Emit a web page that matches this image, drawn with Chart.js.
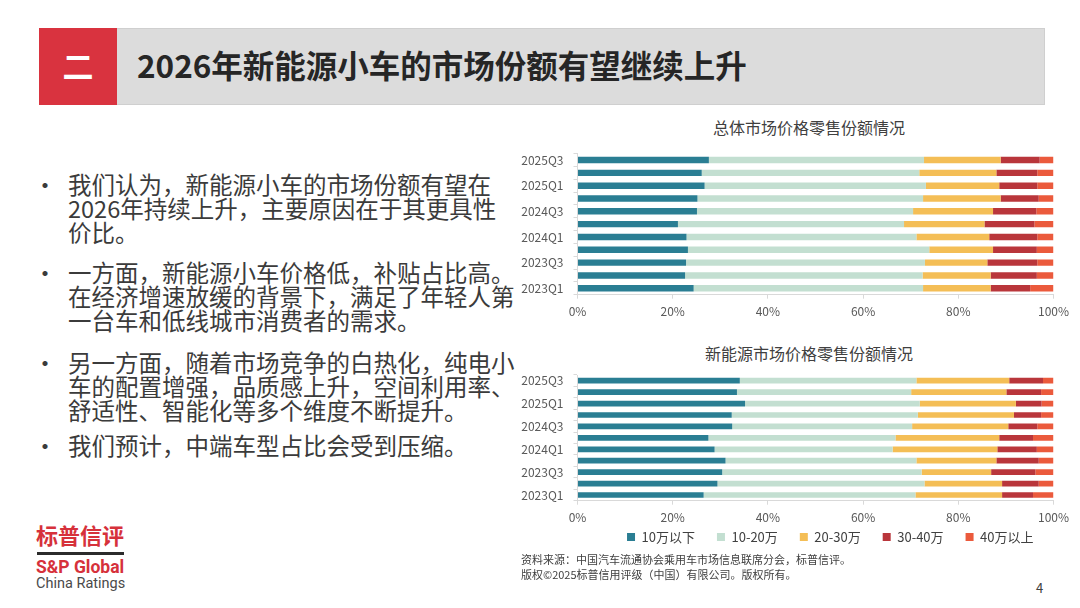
<!DOCTYPE html>
<html lang="zh-CN">
<head>
<meta charset="utf-8">
<title>2026年新能源小车的市场份额有望继续上升</title>
<script src="https://cdn.jsdelivr.net/npm/chart.js@4.4.1/dist/chart.umd.min.js"></script>
<style>
  body {
    margin: 0;
    width: 1080px;
    height: 608px;
    overflow: hidden;
    position: relative;
    background: #fff;
    font-family: "Noto Sans CJK SC", "Noto Sans", sans-serif;
    color: #3b3b3b;
  }
  .abs { position: absolute; }
  #header { left: 39px; top: 28px; width: 1006px; height: 77px; background: #dcdcdc; box-shadow: inset 0 0 0 1px #cfcfcf; }
  #num { left: 39px; top: 28px; width: 78px; height: 77px; background: #d9333f; color: #fff; font-size: 31px; font-weight: bold; text-align: center; line-height: 73px; }
  #title { left: 137px; top: 28px; line-height: 73px; font-size: 31.5px; font-weight: bold; color: #262626; white-space: nowrap; }
  .para { left: 68px; font-size: 23.5px; line-height: 24px; white-space: nowrap; }
  .dot { left: 33px; width: 20px; text-align: center; font-size: 24px; line-height: 24px; }
  .ctitle { left: 609px; width: 400px; text-align: center; font-size: 16px; line-height: 20px; color: #404040; }
  canvas { position: absolute; }
  #src { left: 521px; top: 552px; font-size: 11px; line-height: 15px; color: #404040; white-space: nowrap; }
  #page { left: 1036px; top: 579px; font-size: 13px; line-height: 18px; color: #404040; }
  #logo-cn { left: 36px; top: 522px; font-size: 22px; line-height: 24px; font-weight: bold; color: #d6313b; white-space: nowrap; }
  #logo-line { left: 37px; top: 552px; width: 87px; height: 2.5px; background: #2b2b2b; }
  #logo-en { left: 36px; top: 557px; font-family: Roboto, "Liberation Sans", sans-serif; font-size: 17.5px; line-height: 20px; font-weight: bold; color: #d6313b; white-space: nowrap; }
  #logo-sub { left: 36px; top: 575px; font-family: Roboto, "Liberation Sans", sans-serif; font-size: 14.5px; line-height: 17px; color: #4a4a4a; white-space: nowrap; }
</style>
</head>
<body>
  <!-- 标题栏 -->
  <div id="header" class="abs"></div>
  <div id="num" class="abs">二</div>
  <div id="title" class="abs">2026年新能源小车的市场份额有望继续上升</div>

  <!-- 左侧要点 -->
  <div class="abs dot" style="top:172px">•</div>
  <div class="abs para" style="top:172px">我们认为，新能源小车的市场份额有望在<br>2026年持续上升，主要原因在于其更具性<br>价比。</div>
  <div class="abs dot" style="top:260px">•</div>
  <div class="abs para" style="top:260px">一方面，新能源小车价格低，补贴占比高。<br>在经济增速放缓的背景下，满足了年轻人第<br>一台车和低线城市消费者的需求。</div>
  <div class="abs dot" style="top:350px">•</div>
  <div class="abs para" style="top:350px">另一方面，随着市场竞争的白热化，纯电小<br>车的配置增强，品质感上升，空间利用率、<br>舒适性、智能化等多个维度不断提升。</div>
  <div class="abs dot" style="top:433px">•</div>
  <div class="abs para" style="top:433px">我们预计，中端车型占比会受到压缩。</div>

  <!-- 图表 -->
  <div class="abs ctitle" style="top:117px">总体市场价格零售份额情况</div>
  <canvas id="chartTotal" width="570" height="195" style="left:505px; top:135px; width:570px; height:195px;"></canvas>
  <div class="abs ctitle" style="top:343px">新能源市场价格零售份额情况</div>
  <canvas id="chartNev" width="570" height="212" style="left:505px; top:357px; width:570px; height:212px;"></canvas>

  <div id="src" class="abs">资料来源：中国汽车流通协会乘用车市场信息联席分会，标普信评。<br>版权©2025标普信用评级（中国）有限公司。版权所有。</div>
  <div id="page" class="abs">4</div>

  <!-- 标志 -->
  <div id="logo-cn" class="abs">标普信评</div>
  <div id="logo-line" class="abs"></div>
  <div id="logo-en" class="abs">S&amp;P Global</div>
  <div id="logo-sub" class="abs">China Ratings</div>

<script>
// =============================
// DATOS
// =============================
const quarters = [
  "2023Q1", "2023Q2", "2023Q3", "2023Q4",
  "2024Q1", "2024Q2", "2024Q3", "2024Q4",
  "2025Q1", "2025Q2", "2025Q3",
];
const seriesNames = ["10万以下", "10-20万", "20-30万", "30-40万", "40万以上"];
const seriesColors = ["#2a7e93", "#c3dfd1", "#f4be56", "#b9363b", "#eb5a3c"];
const xTickStep = 20;

// 总体市场 (%)
const totalBelow10 = [24.4, 22.6, 22.8, 23.2, 22.9, 21.1, 25.1, 25.2, 26.7, 26.1, 27.6];
const total10to20 = [48.2, 49.9, 50.2, 50.7, 48.3, 47.5, 45.4, 47.4, 46.5, 45.7, 45.2];
const total20to30 = [14.2, 14.3, 13.1, 13.4, 15.3, 16.9, 16.8, 16.3, 15.4, 16.2, 16.1];
const total30to40 = [8.3, 9.7, 10.5, 9.2, 10.1, 10.5, 9.1, 8.0, 8.0, 8.6, 8.2];
const totalAbove40 = [4.9, 3.5, 3.4, 3.5, 3.4, 4.0, 3.6, 3.1, 3.4, 3.4, 2.9];

// 新能源市场 (%)
const nevBelow10 = [26.5, 29.4, 30.4, 31.1, 28.8, 27.5, 32.5, 32.4, 35.2, 33.5, 34.1];
const nev10to20 = [44.5, 43.5, 41.9, 40.1, 37.4, 39.3, 37.8, 39.1, 36.7, 36.6, 37.1];
const nev20to30 = [18.2, 16.3, 14.6, 16.8, 22.0, 21.8, 20.2, 20.2, 20.2, 20.0, 19.5];
const nev30to40 = [6.5, 7.7, 9.3, 8.9, 8.3, 7.1, 6.1, 5.7, 5.4, 7.3, 7.1];
const nevAbove40 = [4.3, 3.1, 3.8, 3.1, 3.5, 4.3, 3.4, 2.6, 2.5, 2.6, 2.2];

Chart.defaults.font.family = '"Noto Sans CJK SC", "Noto Sans", sans-serif';
Chart.defaults.color = "#595959";

// arma los datasets apilados
function buildDatasets(seriesData) {
  return seriesData.map((data, i) => ({
    label: seriesNames[i],
    data: data,
    backgroundColor: seriesColors[i],
    borderWidth: 0,
    barPercentage: 0.5,
    categoryPercentage: 1.0,
  }));
}

// opciones comunes de ambos gráficos
function buildOptions(padding, legend) {
  return {
    indexAxis: "y",
    responsive: false,
    animation: false,
    layout: { padding: padding },
    plugins: {
      legend: legend,
      tooltip: { enabled: false },
    },
    scales: {
      x: {
        stacked: true,
        min: 0,
        max: 100,
        border: { color: "#d9d9d9" },
        grid: { drawOnChartArea: false, color: "#d9d9d9", tickLength: 4 },
        ticks: {
          stepSize: xTickStep,
          padding: 6,
          font: { size: 12 },
          callback: (v) => v + "%",
        },
        afterFit: (scale) => { scale.height = 26; },
      },
      y: {
        stacked: true,
        reverse: true,
        border: { color: "#d9d9d9" },
        grid: { drawOnChartArea: false, color: "#d9d9d9", tickLength: 4, offset: true },
        ticks: {
          autoSkip: false,
          padding: 10,
          font: { size: 12 },
          // solo se muestra uno de cada dos trimestres
          callback: function (v, i) {
            return i % 2 === 0 ? this.getLabelForValue(v) : "";
          },
        },
        afterFit: (scale) => { scale.width = 72.5; },
      },
    },
  };
}

// sube la leyenda para que quede pegada a las etiquetas del eje
const legendLift = {
  id: "legendLift",
  afterLayout(chart) {
    const lg = chart.legend;
    if (!lg) return;
    lg.top = 151.5;
    lg.bottom = lg.top + lg.height;
  },
};

// 总体市场价格零售份额情况
new Chart(document.getElementById("chartTotal"), {
  type: "bar",
  data: {
    labels: quarters,
    datasets: buildDatasets([totalBelow10, total10to20, total20to30, total30to40, totalAbove40]),
  },
  options: buildOptions({ top: 18.6, right: 19.5, bottom: 9.3, left: 0 }, { display: false }),
});

// 新能源市场价格零售份额情况
new Chart(document.getElementById("chartNev"), {
  type: "bar",
  data: {
    labels: quarters,
    datasets: buildDatasets([nevBelow10, nev10to20, nev20to30, nev30to40, nevAbove40]),
  },
  options: buildOptions({ top: 18, right: 19.5, bottom: 2.3, left: 0 }, {
    position: "bottom",
    align: "end",
    maxHeight: 40,
    labels: {
      boxWidth: 8,
      boxHeight: 8,
      padding: 22,
      color: "#404040",
      font: { size: 13 },
    },
  }),
  plugins: [legendLift],
});
</script>
</body>
</html>
